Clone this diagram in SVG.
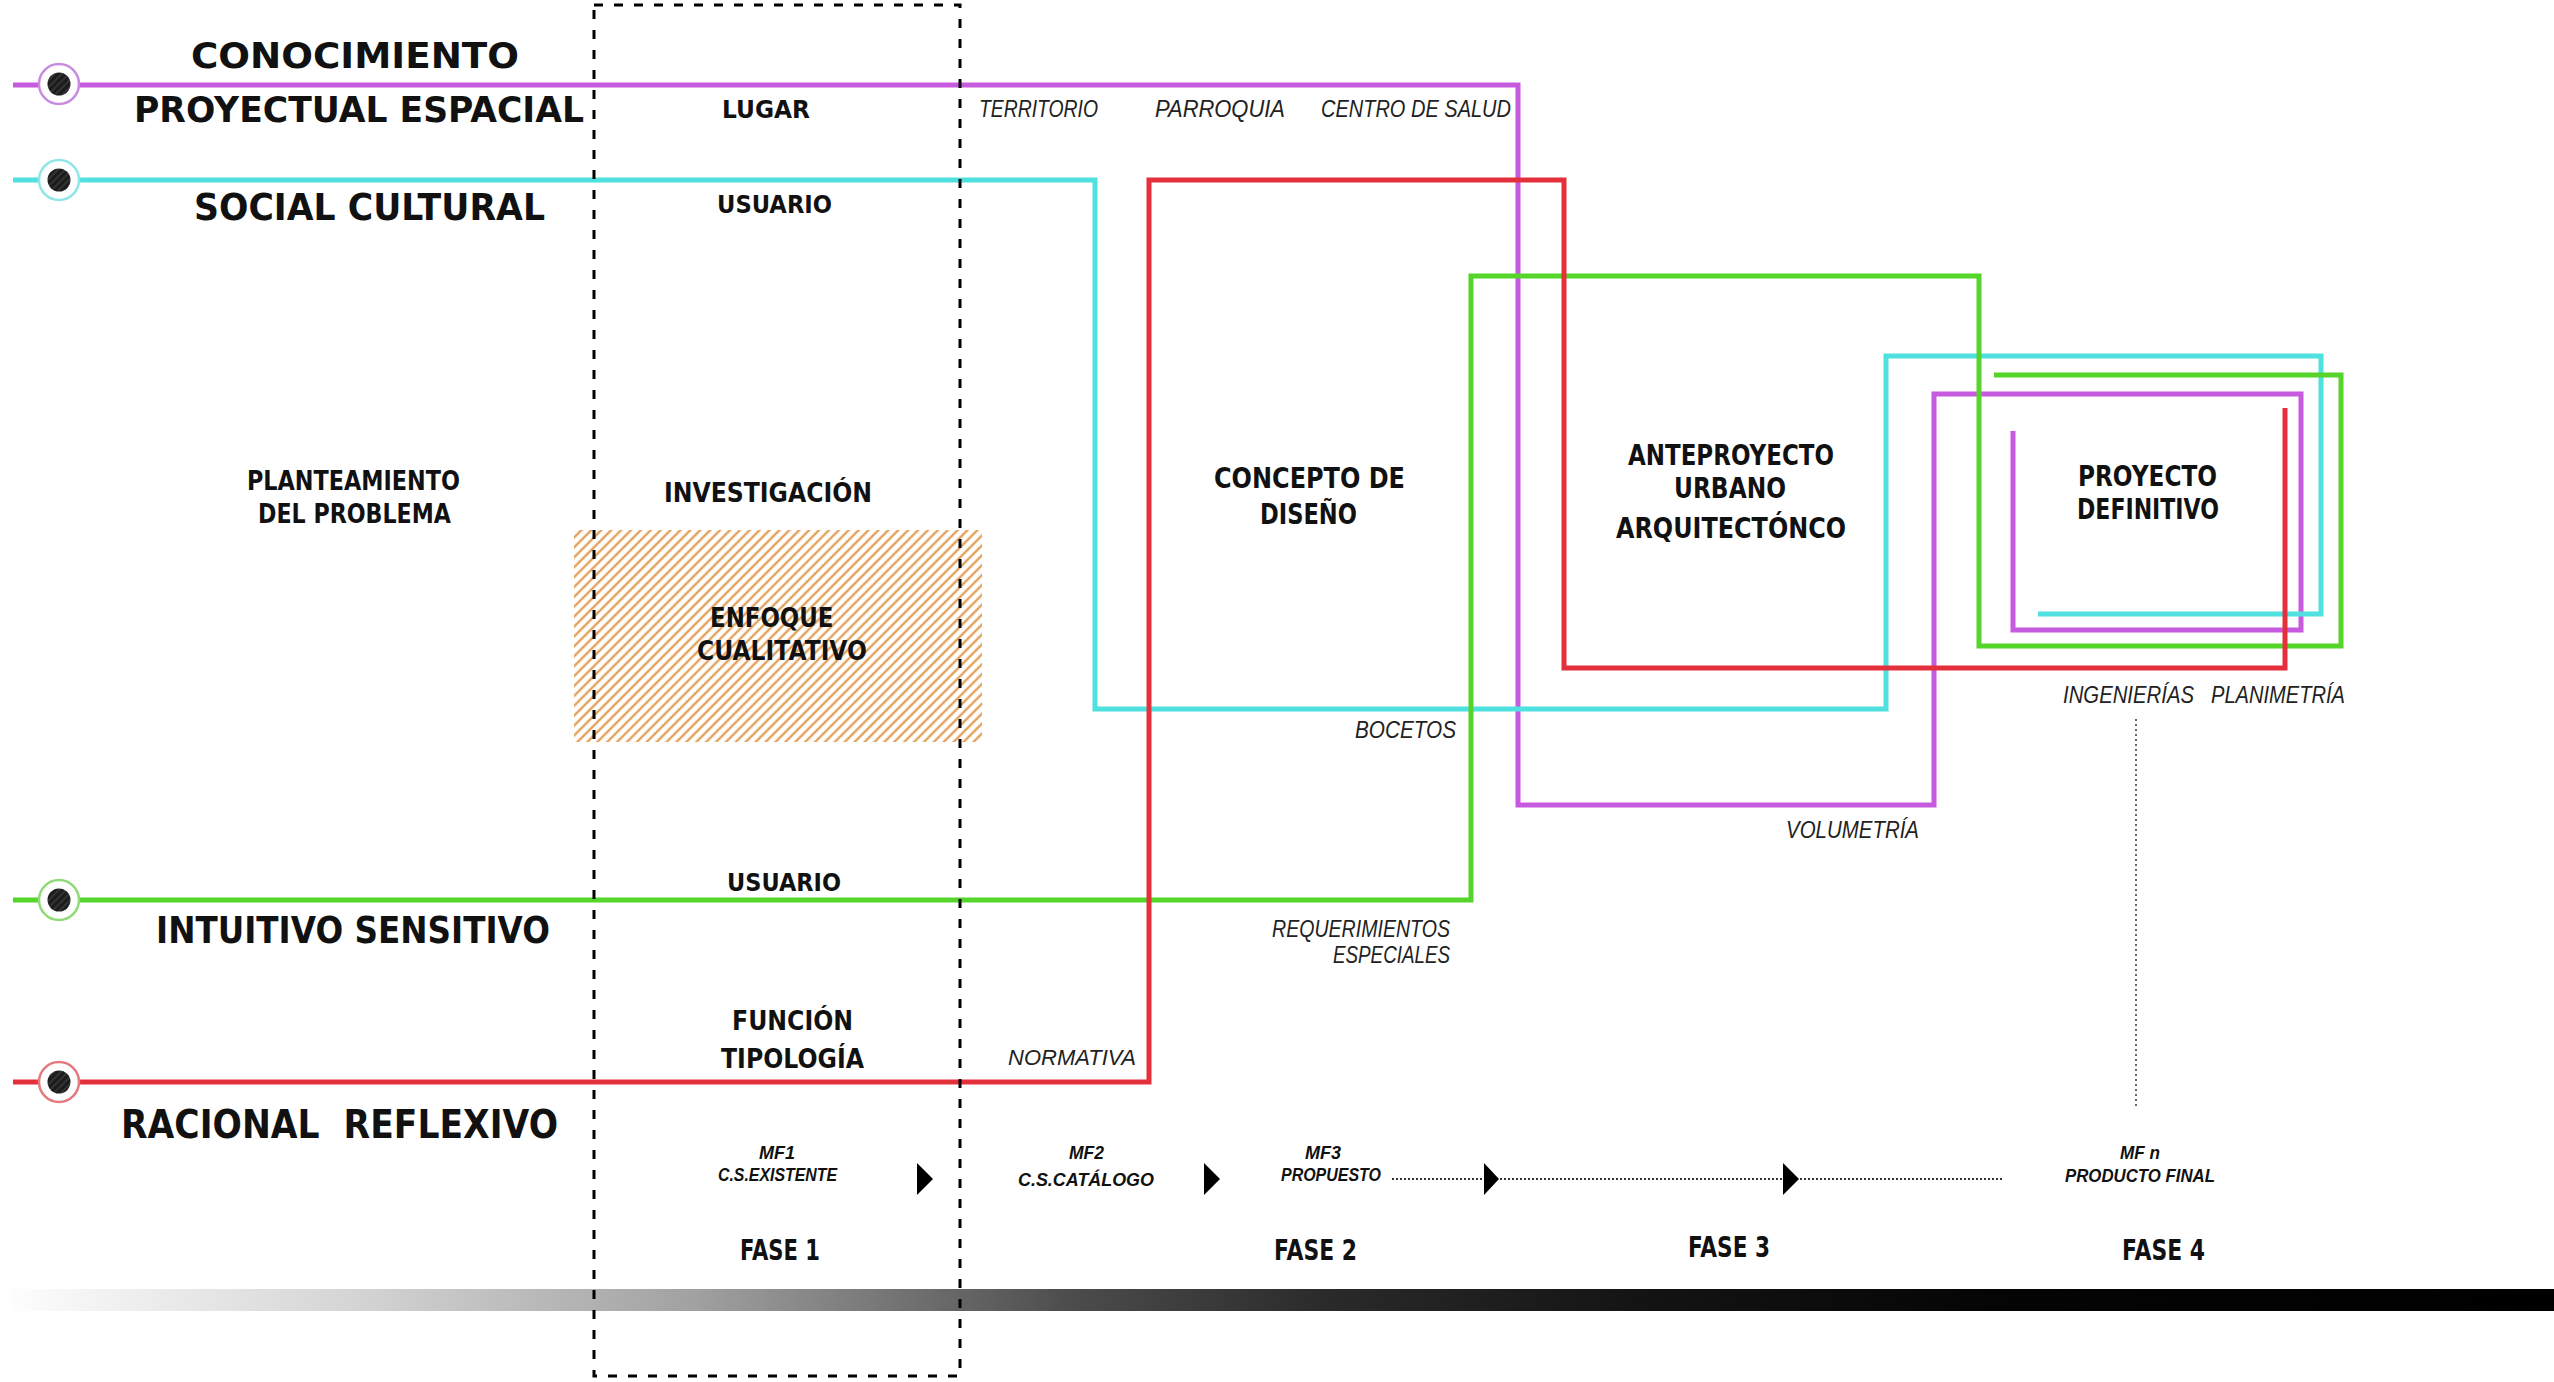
<svg xmlns="http://www.w3.org/2000/svg" width="2554" height="1382" viewBox="0 0 2554 1382">
  <style>
    .line { fill: none; stroke-width: 5; stroke-linejoin: miter; stroke-linecap: butt; }
    .mag { stroke: #C75BE0; }
    .cya { stroke: #4FE0E0; }
    .grn { stroke: #55D42A; }
    .red { stroke: #E4303A; }
    .ttl { font-family: "DejaVu Sans", "Liberation Sans", sans-serif; font-weight: bold; fill: #111; }
    .lbl { font-family: "DejaVu Sans", "Liberation Sans", sans-serif; font-weight: bold; fill: #111; }
    .ita { font-family: "Liberation Sans", "DejaVu Sans", sans-serif; font-style: italic; fill: #222; }
    .mf { font-family: "Liberation Sans", "DejaVu Sans", sans-serif; font-style: italic; font-weight: bold; fill: #111; }
    .ring { fill: #fff; stroke-width: 2.5; }
    .dot { fill: url(#dotHatch); }
    .tri { fill: #000; }
  </style>
  <defs>
    <pattern id="tanHatch" patternUnits="userSpaceOnUse" width="7" height="7" patternTransform="rotate(45)">
      <rect width="7" height="7" fill="#fff"/>
      <line x1="2" y1="0" x2="2" y2="7" stroke="#E2A25E" stroke-width="2.4"/>
    </pattern>
    <pattern id="dotHatch" patternUnits="userSpaceOnUse" width="5" height="5" patternTransform="rotate(45)">
      <rect width="5" height="5" fill="#1c1c1c"/>
      <line x1="1" y1="0" x2="1" y2="5" stroke="#555" stroke-width="0.8"/>
    </pattern>
    <linearGradient id="timeBar" x1="0" y1="0" x2="2554" y2="0" gradientUnits="userSpaceOnUse">
      <stop offset="0" stop-color="#ffffff"/>
      <stop offset="0.04" stop-color="#f2f2f2"/>
      <stop offset="0.14" stop-color="#d4d4d4"/>
      <stop offset="0.27" stop-color="#a2a2a2"/>
      <stop offset="0.34" stop-color="#7a7a7a"/>
      <stop offset="0.42" stop-color="#4c4c4c"/>
      <stop offset="0.52" stop-color="#2a2a2a"/>
      <stop offset="0.64" stop-color="#141414"/>
      <stop offset="0.78" stop-color="#050505"/>
      <stop offset="1" stop-color="#000000"/>
    </linearGradient>
  </defs>

  <rect width="2554" height="1382" fill="#fff"/>

  <!-- qualitative focus zone -->
  <g id="enfoque">
    <rect x="574" y="530" width="408" height="212" fill="url(#tanHatch)"/>
    <text class="lbl" x="710" y="627" font-size="26" textLength="123.5" lengthAdjust="spacingAndGlyphs">ENFOQUE</text>
    <text class="lbl" x="697" y="660" font-size="26" textLength="170" lengthAdjust="spacingAndGlyphs">CUALITATIVO</text>
  </g>

  <!-- time bar -->
  <rect id="timebar" x="10" y="1289" width="2544" height="22" fill="url(#timeBar)"/>

  <!-- thinking axes -->
  <g id="connectors">
    <path class="line mag" d="M13,85 H1518 V805 H1934 V394 H2301 V630 H2013 V431"/>
    <path class="line cya" d="M13,180 H1095 V709 H1886 V356 H2321 V614 H2038"/>
    <path class="line grn" d="M13,900 H1471 V276 H1979 V646 H2341 V375 H1994"/>
    <path class="line red" d="M13,1082 H1149 V180 H1564 V668 H2285 V408"/>
    <!-- milestone flow -->
    <line x1="1392" y1="1179" x2="2004" y2="1179" stroke="#333" stroke-width="2" stroke-dasharray="2 2"/>
    <line x1="2136" y1="719" x2="2136" y2="1108" stroke="#333" stroke-width="1.5" stroke-dasharray="2 3"/>
    <polygon class="tri" points="917,1163 933,1179 917,1195"/>
    <polygon class="tri" points="1204,1163 1220,1179 1204,1195"/>
    <polygon class="tri" points="1484,1163 1499,1179 1484,1195"/>
    <polygon class="tri" points="1783,1163 1799,1179 1783,1195"/>
  </g>

  <!-- phase 1 frame -->
  <rect id="fase1-frame" x="594" y="5" width="366" height="1371" fill="none" stroke="#000" stroke-width="3" stroke-dasharray="9 11"/>

  <!-- axis start markers and titles -->
  <g id="axis-conocimiento">
    <circle class="ring" cx="59" cy="84" r="20" stroke="#C98BE0"/>
    <circle class="dot" cx="59" cy="84" r="11.5"/>
    <text class="ttl" x="191" y="68" font-size="35" textLength="328" lengthAdjust="spacingAndGlyphs">CONOCIMIENTO</text>
    <text class="ttl" x="134" y="122" font-size="35" textLength="450" lengthAdjust="spacingAndGlyphs">PROYECTUAL ESPACIAL</text>
  </g>
  <g id="axis-social">
    <circle class="ring" cx="59" cy="180" r="20" stroke="#8EE6E6"/>
    <circle class="dot" cx="59" cy="180" r="11.5"/>
    <text class="ttl" x="194" y="220" font-size="37" textLength="351" lengthAdjust="spacingAndGlyphs">SOCIAL CULTURAL</text>
  </g>
  <g id="axis-intuitivo">
    <circle class="ring" cx="59" cy="900" r="20" stroke="#8EDB78"/>
    <circle class="dot" cx="59" cy="900" r="11.5"/>
    <text class="ttl" x="156" y="943" font-size="38" textLength="394" lengthAdjust="spacingAndGlyphs">INTUITIVO SENSITIVO</text>
  </g>
  <g id="axis-racional">
    <circle class="ring" cx="59" cy="1082" r="20" stroke="#E47A80"/>
    <circle class="dot" cx="59" cy="1082" r="11.5"/>
    <text class="ttl" x="121" y="1138" font-size="39" textLength="437" lengthAdjust="spacingAndGlyphs" xml:space="preserve">RACIONAL  REFLEXIVO</text>
  </g>

  <!-- problem statement -->
  <g id="planteamiento">
    <text class="lbl" x="247" y="490" font-size="26" textLength="213" lengthAdjust="spacingAndGlyphs">PLANTEAMIENTO</text>
    <text class="lbl" x="258" y="523" font-size="26" textLength="193" lengthAdjust="spacingAndGlyphs">DEL PROBLEMA</text>
  </g>

  <!-- research column -->
  <g id="investigacion">
    <text class="lbl" x="722" y="118" font-size="25" textLength="88" lengthAdjust="spacingAndGlyphs">LUGAR</text>
    <text class="lbl" x="717" y="213" font-size="25" textLength="115" lengthAdjust="spacingAndGlyphs">USUARIO</text>
    <text class="lbl" x="664" y="502" font-size="27" textLength="208" lengthAdjust="spacingAndGlyphs">INVESTIGACIÓN</text>
    <text class="lbl" x="727" y="891" font-size="25" textLength="114" lengthAdjust="spacingAndGlyphs">USUARIO</text>
    <text class="lbl" x="732" y="1030" font-size="26" textLength="121" lengthAdjust="spacingAndGlyphs">FUNCIÓN</text>
    <text class="lbl" x="721" y="1068" font-size="26" textLength="143" lengthAdjust="spacingAndGlyphs">TIPOLOGÍA</text>
  </g>

  <!-- axis annotations -->
  <g id="annotations">
    <text class="ita" x="979" y="117" font-size="23" textLength="119" lengthAdjust="spacingAndGlyphs">TERRITORIO</text>
    <text class="ita" x="1155" y="117" font-size="23" textLength="130" lengthAdjust="spacingAndGlyphs">PARROQUIA</text>
    <text class="ita" x="1321" y="117" font-size="23" textLength="190" lengthAdjust="spacingAndGlyphs">CENTRO DE SALUD</text>
    <text class="ita" x="1355" y="738" font-size="23" textLength="101" lengthAdjust="spacingAndGlyphs">BOCETOS</text>
    <text class="ita" x="1786" y="838" font-size="23" textLength="133" lengthAdjust="spacingAndGlyphs">VOLUMETRÍA</text>
    <text class="ita" x="2063" y="703" font-size="23" textLength="131" lengthAdjust="spacingAndGlyphs">INGENIERÍAS</text>
    <text class="ita" x="2211" y="703" font-size="23" textLength="134" lengthAdjust="spacingAndGlyphs">PLANIMETRÍA</text>
    <text class="ita" x="1272" y="937" font-size="23" textLength="178" lengthAdjust="spacingAndGlyphs">REQUERIMIENTOS</text>
    <text class="ita" x="1333" y="963" font-size="23" textLength="117" lengthAdjust="spacingAndGlyphs">ESPECIALES</text>
    <text class="ita" x="1008" y="1065" font-size="22" textLength="128" lengthAdjust="spacingAndGlyphs">NORMATIVA</text>
  </g>

  <!-- design stages -->
  <g id="concepto">
    <text class="lbl" x="1214" y="488" font-size="28" textLength="191" lengthAdjust="spacingAndGlyphs">CONCEPTO DE</text>
    <text class="lbl" x="1260" y="524" font-size="28" textLength="97" lengthAdjust="spacingAndGlyphs">DISEÑO</text>
  </g>
  <g id="anteproyecto">
    <text class="lbl" x="1628" y="465" font-size="28" textLength="206" lengthAdjust="spacingAndGlyphs">ANTEPROYECTO</text>
    <text class="lbl" x="1674" y="498" font-size="28" textLength="112" lengthAdjust="spacingAndGlyphs">URBANO</text>
    <text class="lbl" x="1616" y="538" font-size="28" textLength="230" lengthAdjust="spacingAndGlyphs">ARQUITECTÓNCO</text>
  </g>
  <g id="proyecto-definitivo">
    <text class="lbl" x="2078" y="486" font-size="28" textLength="139" lengthAdjust="spacingAndGlyphs">PROYECTO</text>
    <text class="lbl" x="2077" y="519" font-size="28" textLength="142" lengthAdjust="spacingAndGlyphs">DEFINITIVO</text>
  </g>

  <!-- milestones -->
  <g id="mf1">
    <text class="mf" x="759" y="1159" font-size="18" textLength="36" lengthAdjust="spacingAndGlyphs">MF1</text>
    <text class="mf" x="718" y="1181" font-size="18" textLength="119" lengthAdjust="spacingAndGlyphs">C.S.EXISTENTE</text>
  </g>
  <g id="mf2">
    <text class="mf" x="1069" y="1159" font-size="18" textLength="35" lengthAdjust="spacingAndGlyphs">MF2</text>
    <text class="mf" x="1018" y="1186" font-size="19" textLength="136" lengthAdjust="spacingAndGlyphs">C.S.CATÁLOGO</text>
  </g>
  <g id="mf3">
    <text class="mf" x="1305" y="1159" font-size="18" textLength="36" lengthAdjust="spacingAndGlyphs">MF3</text>
    <text class="mf" x="1281" y="1181" font-size="18" textLength="100" lengthAdjust="spacingAndGlyphs">PROPUESTO</text>
  </g>
  <g id="mfn">
    <text class="mf" x="2120" y="1159" font-size="18" textLength="40" lengthAdjust="spacingAndGlyphs">MF n</text>
    <text class="mf" x="2065" y="1182" font-size="18" textLength="150" lengthAdjust="spacingAndGlyphs">PRODUCTO FINAL</text>
  </g>

  <!-- phases -->
  <g id="fases">
    <text class="lbl" x="740" y="1260" font-size="28" textLength="80" lengthAdjust="spacingAndGlyphs">FASE 1</text>
    <text class="lbl" x="1274" y="1260" font-size="28" textLength="83" lengthAdjust="spacingAndGlyphs">FASE 2</text>
    <text class="lbl" x="1688" y="1257" font-size="28" textLength="82" lengthAdjust="spacingAndGlyphs">FASE 3</text>
    <text class="lbl" x="2122" y="1260" font-size="28" textLength="83" lengthAdjust="spacingAndGlyphs">FASE 4</text>
  </g>
</svg>
